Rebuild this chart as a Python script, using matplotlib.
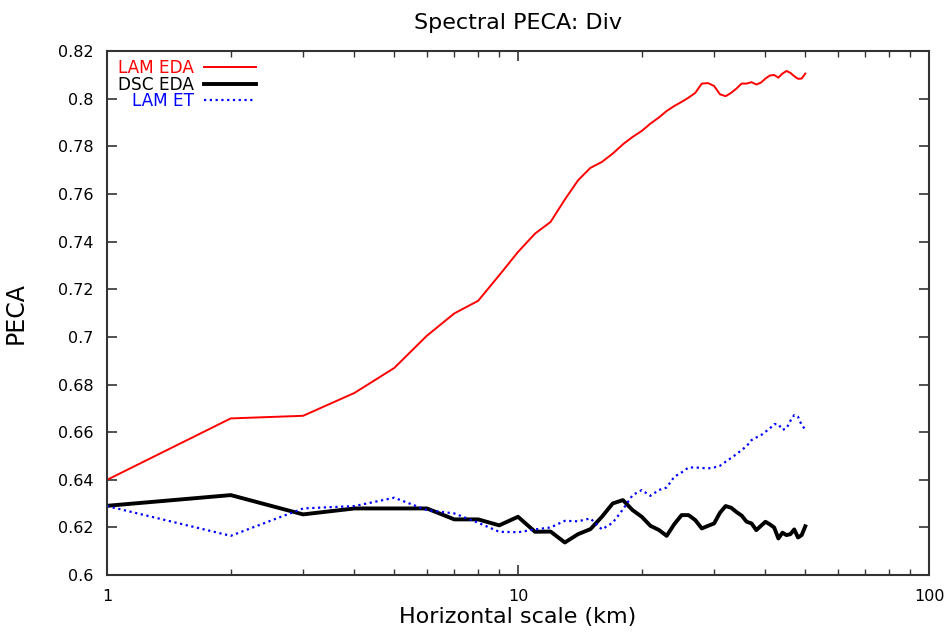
import numpy as np
import matplotlib.pyplot as plt
from matplotlib.ticker import FuncFormatter, LogLocator, NullFormatter

plt.rcParams['font.family'] = ['DejaVu Sans']

# escala horizontal (km)
scale_km = np.arange(1, 51)

lam_eda = [0.640, 0.6658, 0.6669, 0.6765, 0.687, 0.7005, 0.7099, 0.7152, 0.7259, 0.7357,
           0.7434, 0.7483, 0.7577, 0.7658, 0.771, 0.7735, 0.777, 0.7809, 0.784, 0.7865,
           0.7896, 0.7921, 0.7949, 0.797, 0.7987, 0.8005, 0.8025, 0.8064, 0.8066, 0.8054,
           0.8019, 0.8011, 0.8025, 0.8043, 0.8064, 0.8064, 0.807, 0.806, 0.8068, 0.8085,
           0.8098, 0.810, 0.8089, 0.8106, 0.8117, 0.8109, 0.8095, 0.8084, 0.8085, 0.8106]

dsc_eda = [0.6291, 0.6336, 0.6255, 0.628, 0.628, 0.628, 0.6234, 0.6234, 0.6209, 0.6245,
           0.6182, 0.6183, 0.6137, 0.6172, 0.6193, 0.6245, 0.6301, 0.6315, 0.6273, 0.6245,
           0.6207, 0.619, 0.6165, 0.6214, 0.6252, 0.6252, 0.6231, 0.6196, 0.6207, 0.6217,
           0.6262, 0.629, 0.6283, 0.6265, 0.625, 0.6224, 0.6217, 0.6189, 0.6207, 0.6224,
           0.6213, 0.620, 0.6154, 0.6178, 0.6168, 0.6172, 0.6192, 0.6158, 0.6168, 0.6205]

lam_et = [0.629, 0.6165, 0.628, 0.629, 0.6325, 0.6273, 0.6259, 0.622, 0.6182, 0.618,
          0.6192, 0.620, 0.6228, 0.6226, 0.6238, 0.6192, 0.622, 0.6276, 0.6336, 0.6357,
          0.6333, 0.6357, 0.6368, 0.6413, 0.6431, 0.6452, 0.6452, 0.645, 0.6448, 0.6452,
          0.6459, 0.6476, 0.6492, 0.6508, 0.6525, 0.6542, 0.6567, 0.6578, 0.6587, 0.6602,
          0.6616, 0.6634, 0.6634, 0.661, 0.6616, 0.6648, 0.6672, 0.6665, 0.663, 0.6612]

yticks = [0.6, 0.62, 0.64, 0.66, 0.68, 0.7, 0.72, 0.74, 0.76, 0.78, 0.8, 0.82]

fig = plt.figure(figsize=(9.47, 6.32), dpi=100)
ax = fig.add_axes([0.113, 0.090, 0.868, 0.829])

ax.plot(scale_km, lam_eda, color='red', lw=1.4, label='LAM EDA')
ax.plot(scale_km, dsc_eda, color='black', lw=2.8, label='DSC EDA')
ax.plot(scale_km, lam_et, color='blue', lw=1.6, linestyle=(0, (1, 1.6)), label='LAM ET')

ax.set_xscale('log')
ax.set_xlim(1, 100)
ax.set_ylim(0.6, 0.82)
ax.set_yticks(yticks)
ax.yaxis.set_major_formatter(FuncFormatter(lambda v, p: '%g' % round(v, 2)))
ax.xaxis.set_major_locator(LogLocator(base=10))
ax.xaxis.set_major_formatter(FuncFormatter(lambda v, p: '%g' % v))
ax.xaxis.set_minor_locator(LogLocator(base=10, subs=np.arange(2, 10)))
ax.xaxis.set_minor_formatter(NullFormatter())

ax.tick_params(which='both', direction='in', top=True, right=True, labelsize=11.5,
               colors='#333333', labelcolor='black')
ax.tick_params(which='major', length=7, width=1.2)
ax.tick_params(which='minor', length=4, width=1.0)
ax.tick_params(axis='x', which='major', pad=10)
ax.tick_params(axis='y', which='major', pad=9.5)
for s in ax.spines.values():
    s.set_linewidth(1.5)
    s.set_color('#333333')

ax.set_title('Spectral PECA: Div', fontsize=16, pad=16)
ax.set_xlabel('Horizontal scale (km)', fontsize=16)
ax.set_ylabel('PECA', fontsize=17)
ax.xaxis.set_label_coords(0.5, -0.061)
ax.yaxis.set_label_coords(-0.097, 0.5)

leg = ax.legend(loc='upper left', frameon=False, markerfirst=False, labelcolor='linecolor',
                fontsize=12.2, handlelength=3.1, handletextpad=0.6, labelspacing=-0.08,
                borderaxespad=0.0, borderpad=0.0, bbox_to_anchor=(0.013, 0.985))
for t in leg.get_texts():
    t.set_ha('right')

fig.savefig('out.png', dpi=100)
